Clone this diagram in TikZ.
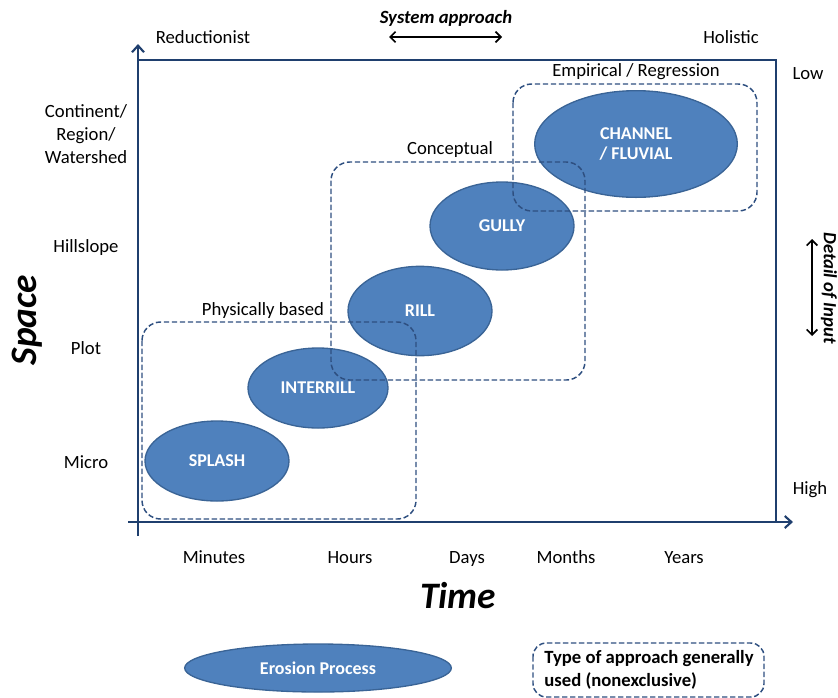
\documentclass[tikz,border=0pt]{standalone}
\usepackage{fontspec}
\setmainfont{Carlito}
\usepackage{tikz}
\usetikzlibrary{arrows.meta,shapes.geometric}

\definecolor{procblue}{HTML}{4F81BD}
\definecolor{procedge}{HTML}{3A6496}
\definecolor{axisblue}{HTML}{1F3F6E}
\definecolor{dashblue}{HTML}{2E4F80}

\begin{document}
\begin{tikzpicture}[x=0.75pt,y=-0.75pt,
  proc/.style={ellipse,draw=procedge,line width=1pt,fill=procblue,text=white,font=\fontsize{13.5}{15.5}\selectfont\bfseries,align=center,inner sep=0pt},
  approach/.style={draw=dashblue,dash pattern=on 4pt off 2pt,line width=1.1pt,rounded corners=14pt},
  lbl/.style={font=\fontsize{14}{17}\selectfont,align=center,inner sep=1pt},
  axisline/.style={draw=axisblue,line width=1.6pt,-{Straight Barb[length=5pt,width=9pt]}},
  dbl/.style={line width=1.3pt,{Straight Barb[length=4pt,width=8pt]}-{Straight Barb[length=4pt,width=8pt]}}]
\useasboundingbox (0,0) rectangle (838,697);

%frame and axes
\draw[axisblue,line width=1.4pt] (138,60) -- (776,60) -- (776,522);
\coordinate (o1) at (138,536);
\coordinate (ytop) at (138,44);
\coordinate (o2) at (128,522);
\coordinate (xend) at (793,522);
\draw[axisline] (o1) -- (ytop);
\draw[axisline] (o2) -- (xend);

%erosion processes
\node[proc,minimum width=108pt,minimum height=60pt] (splash) at (217,461) {SPLASH};
\node[proc,minimum width=105pt,minimum height=60pt] (interrill) at (318,388) {INTERRILL};
\node[proc,minimum width=108pt,minimum height=67pt] (rill) at (420,311) {RILL};
\node[proc,minimum width=108pt,minimum height=66pt] (gully) at (502,226) {GULLY};
\node[proc,minimum width=152pt,minimum height=80pt] (channel) at (636,144) {CHANNEL\\/ FLUVIAL};

%approach boxes
\draw[approach] (142,322) rectangle (416,519);
\draw[approach] (331,162) rectangle (585,380);
\draw[approach] (513,84) rectangle (757,211);
\node[lbl] (phys) at (263,311) {Physically based};
\node[lbl] (conc) at (450,150) {Conceptual};
\node[lbl] (empi) at (636,72) {Empirical / Regression};

%space scale
\node[lbl] (cont) at (86,134) {Continent/\\Region/\\Watershed};
\foreach \name/\y in {Hillslope/248,Plot/348,Micro/462} {
  \node[lbl] (s\name) at (86,\y) {\name};
}
%time scale
\foreach \name/\x in {Minutes/214,Hours/350,Days/467,Months/566,Years/684} {
  \node[lbl,anchor=base] (t\name) at (\x,563) {\name};
}
\node[font=\fontsize{28}{32}\selectfont\bfseries\itshape] (time) at (458,596) {Time};
\node[font=\fontsize{28}{32}\selectfont\bfseries\itshape,rotate=90] (space) at (27,320) {Space};

%system approach
\node[lbl] (reduc) at (203,37) {Reductionist};
\node[lbl] (holis) at (731,37) {Holistic};
\node[lbl,font=\fontsize{14}{17}\selectfont\bfseries\itshape] (sys) at (446,18) {System approach};
\coordinate (sysl) at (389,37);
\coordinate (sysr) at (502,37);
\draw[dbl] (sysl) -- (sysr);

%detail of input
\node[lbl] (low) at (808,74) {Low};
\node[lbl] (high) at (810,490) {High};
\node[lbl,font=\fontsize{14}{17}\selectfont\bfseries\itshape,rotate=-90] (det) at (829,288) {Detail of Input};
\coordinate (dett) at (812,239);
\coordinate (detb) at (812,336);
\draw[dbl] (dett) -- (detb);

%legend
\node[proc,minimum width=200pt,minimum height=36pt] (legproc) at (318,668) {Erosion Process};
\draw[approach,rounded corners=10pt] (533,643) rectangle (764,697);
\node[lbl,font=\fontsize{14}{17}\selectfont\bfseries,align=left] (legapp) at (649,670) {Type of approach generally\\used (nonexclusive)};
\end{tikzpicture}
\end{document}
